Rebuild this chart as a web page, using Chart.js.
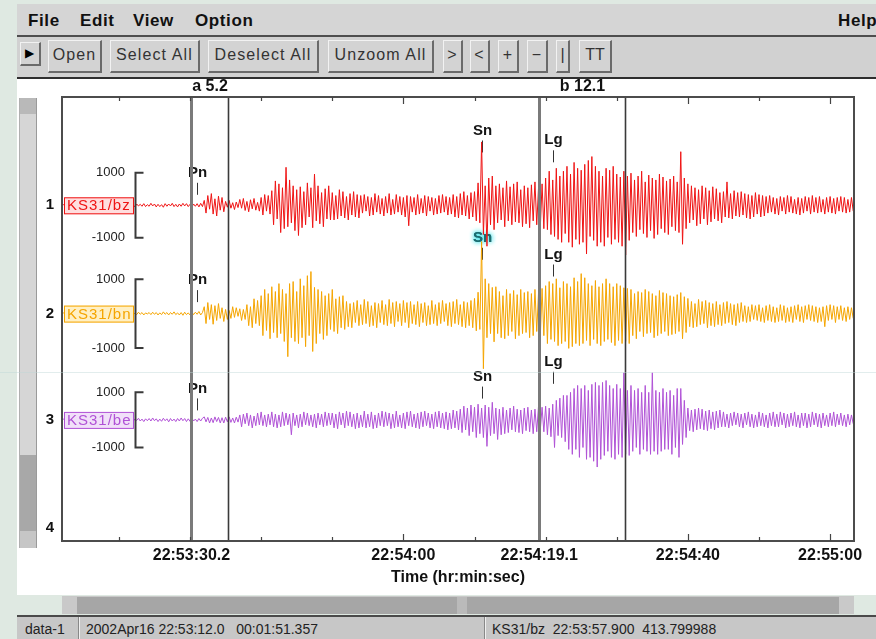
<!DOCTYPE html>
<html><head><meta charset="utf-8">
<script src="https://cdn.jsdelivr.net/npm/chart.js@4.4.1/dist/chart.umd.min.js"></script>
<style>
html,body{margin:0;padding:0;}
body{width:876px;height:639px;overflow:hidden;background:#dfe9e2;position:relative;font-family:"Liberation Sans",Arial,Helvetica,sans-serif;}
.abs{position:absolute;}
#menubar{left:17px;top:4px;width:859px;height:31px;background:#d5d5d5;border-bottom:2px solid #4e4e4e;overflow:hidden;}
.menu{position:absolute;top:8px;font-weight:bold;font-size:17px;line-height:17px;color:#111;letter-spacing:0.6px;white-space:nowrap;}
#toolbar{left:17px;top:37px;width:859px;height:40px;background:#d1d1d1;border-bottom:2px solid #2e2e2e;}
.btn{position:absolute;top:3px;height:33px;box-sizing:border-box;border-style:solid;border-width:1px 2px 2px 1px;border-color:#f2f2f2 #6a6a6a #6a6a6a #f2f2f2;background:#d3d3d3;font-size:16px;letter-spacing:1.1px;color:#333;line-height:28px;text-align:center;white-space:nowrap;}
#plotbg{left:17px;top:79px;width:859px;height:516px;background:#fff;}
#vscroll{left:19px;top:98px;width:16px;height:450px;background:#d6d6d6;border-left:1px solid #b0b0b0;border-right:1px solid #9a9a9a;}
#hscroll{left:62px;top:596px;width:792px;height:17px;background:#a6a6a6;border-top:1px solid #c8c8c8;}
#status{left:17px;top:615px;width:859px;height:24px;background:#c7c7c7;border-top:2px solid #4a4a4a;font-size:14px;color:#222;}
.st{position:absolute;top:4px;white-space:nowrap;line-height:16px;}
.sep{position:absolute;top:0;width:1px;height:24px;background:#888;border-right:1px solid #f0f0f0;}
#chart{position:absolute;left:17px;top:79px;}
</style>
</head><body>
<div id="menubar" class="abs">
  <span class="menu" style="left:11px">File</span>
  <span class="menu" style="left:63px">Edit</span>
  <span class="menu" style="left:116px">View</span>
  <span class="menu" style="left:178px">Option</span>
  <span class="menu" style="left:821px">Help</span>
</div>
<div id="toolbar" class="abs">
  <div class="btn" style="left:3px;top:5px;width:21px;height:24px;line-height:20px;font-size:12px;color:#000;">&#9654;</div>
  <div class="btn" style="left:31px;width:54px;">Open</div>
  <div class="btn" style="left:93px;width:90px;">Select All</div>
  <div class="btn" style="left:191px;width:111px;">Deselect All</div>
  <div class="btn" style="left:311px;width:106px;">Unzoom All</div>
  <div class="btn" style="left:426px;width:20px;">&gt;</div>
  <div class="btn" style="left:453px;width:20px;">&lt;</div>
  <div class="btn" style="left:481px;width:21px;">+</div>
  <div class="btn" style="left:510px;width:21px;">&minus;</div>
  <div class="btn" style="left:539px;width:14px;letter-spacing:0;">|</div>
  <div class="btn" style="left:562px;width:33px;letter-spacing:0;">TT</div>
</div>
<div id="plotbg" class="abs"></div>
<div id="vscroll" class="abs">
  <div class="abs" style="left:0;top:0;width:16px;height:16px;background:#b9b9b9;"></div>
  <div class="abs" style="left:0;top:357px;width:16px;height:76px;background:#a8a8a8;"></div>
  <div class="abs" style="left:0;top:433px;width:16px;height:17px;background:#c6c6c6;"></div>
</div>
<canvas id="chart" width="859" height="516"></canvas>
<div id="hscroll" class="abs">
  <div class="abs" style="left:0;top:0;width:15px;height:17px;background:#c9c9c9;"></div>
  <div class="abs" style="left:395px;top:0;width:10px;height:17px;background:#bababa;"></div>
  <div class="abs" style="left:777px;top:0;width:15px;height:17px;background:#c9c9c9;"></div>
</div>
<div id="status" class="abs">
  <span class="st" style="left:8px">data-1</span>
  <div class="sep" style="left:61px"></div>
  <span class="st" style="left:69px">2002Apr16 22:53:12.0&nbsp;&nbsp;&nbsp;00:01:51.357</span>
  <div class="sep" style="left:467px"></div>
  <span class="st" style="left:475px">KS31/bz&nbsp;&nbsp;22:53:57.900&nbsp;&nbsp;413.799988</span>
</div>
<div class="abs" style="left:0;top:372px;width:876px;height:1px;background:rgba(190,215,215,0.45);pointer-events:none;"></div>
<script>
// ---- data ----
const sampleInterval = 0.25;         // seconds between samples
const duration = 111.357;            // seconds shown (from 22:53:12.0)
const traceNames = ['KS31/bz', 'KS31/bn', 'KS31/be'];
const ampTickValues = [1000, -1000];
const tickValues = [18.2, 48, 67.1, 88, 108];
const tickLabels = ['22:53:30.2', '22:54:00', '22:54:19.1', '22:54:40', '22:55:00'];
const minorTickValues = [8, 18, 28, 38, 48, 58, 68, 78, 88, 98, 108];
const markerNames = ['a', 'b'];
const markerTimes = [18.2, 67.1];
const markerLengths = [5.2, 12.1];
const phaseNames = ['Pn', 'Sn', 'Lg'];
const phaseTimes = [19.05, 59.0, 69.0];

// counts, one value every 0.25 s
const bz = [
 0,20,-10,30,-20,10,-30,20,0,-20, 30,-10,20,-30,10,-20,40,-10,20,-30,
 30,-20,10,-40,20,-10,30,-30,40,-20, 10,-30,30,-10,50,-20,20,-40,30,-10,
 20,-50,40,-20,30,-30,50,-40,20,-30, 60,-20,40,-50,30,-40,20,-60,50,-30,
 40,-20,60,-40,30,-50,40,-30,60,-20, 50,-40,30,-60,40,-30,50,-50,60,-40,
 150,-240,300,-120,360,-270,200,-330,280,-150,240,-200,
 120,-60,150,-90,80,-130,100,-70,
 180,-90,210,-160,120,-200,170,-110,210,-150,90,-180,
 240,-300,330,-180,300,-270,
 450,-600,750,-420,660,-840,540,-720,1170,-660,780,-540,600,-780,480,-930,570,-690,
 420,-600,690,-360,540,-690,960,-480,600,-570,390,-660,510,-420,600,-450,
 390,-450,300,-420,480,-330,420,-390,270,-450,360,-300,420,-360,330,-390,
 300,-240,330,-180,270,-330,240,-300,360,-210,
 300,-270,210,-330,270,-240,360,-300,180,-270,
 330,-210,270,-300,240,-360,300,-630,270,-210,
 240,-300,330,-270,210,-240,300,-330,270,-180,
 240,-300,210,-270,300,-240,330,-210,270,-300,
 240,-270,
 330,-360,270,-390,360,-300,420,-330,300,-420,390,-360,
 420,-480,690,-540,1950,-900,600,-1260,840,-600,900,-750,
 600,-540,660,-450,540,-660,750,-480,570,-600,
 660,-510,720,-540,480,-660,600,-570,540,-690,
 630,-480,720,-600,540,-690,660,-720,
 840,-750,1050,-900,780,-960,1140,-1050,900,-1140,
 1050,-870,1200,-1140,960,-1290,1320,-1050,1140,-1200,
 1080,-1140,1260,-1500,1380,-960,1500,-1080,1200,-1260,
 1050,-1140,900,-1260,1140,-990,1080,-1200,1200,-1050,
 960,-1140,870,-1260,1050,-1530,900,-1080,
 990,-840,780,-960,900,-750,1050,-870,720,-990,
 930,-780,840,-1020,780,-900,960,-720,870,-840,
 750,-900,810,-660,900,-780,720,-840,
 1650,-1200,840,-720,
 660,-540,600,-450,540,-630,480,-570,600,-420,
 540,-600,450,-510,570,-420,510,-480,390,-540,
 420,-360,720,-390,360,-420,450,-330,390,-360,
 420,-300,360,-390,330,-420,300,-360,390,-270,
 330,-360,300,-330,
 270,-240,300,-210,240,-270,210,-300,270,-180,
 240,-270,300,-210,270,-240,180,-270,240,-300,
 210,-240,270,-180,240,-270,300,-210,240,-240,
 270,-210,180,-270,240,-210,270,-240,210,-270,
 240,-180,270,-210,240,-240,180,-210,240,-180
];
const bn = [
 0,20,-10,20,-20,10,-20,30,-10,20, -30,10,-20,20,-10,30,-20,10,-30,20,
 -10,30,-20,10,-30,20,-20,30,-10,20, -30,20,-10,30,-20,40,-10,20,-30,30,
 -20,10,-30,40,-20,30,-40,20,-10,30, -30,40,-20,30,-40,20,-30,50,-20,30,
 -40,30,-20,50,-30,20,-40,30,-50,40, -30,20,-40,50,-30,40,-20,60,-40,30,
 200,-290,320,-170,260,-310,230,-200,290,-140,170,-230,
 120,-170,90,-140,200,-110,170,-80,140,-200,120,-170,
 260,-350,200,-410,430,-290,380,-350,
 520,-640,700,-490,580,-730,780,-550,640,-700,870,-580,700,-810,580,-1250,
 870,-700,930,-810,640,-870,1010,-700,810,-960,1100,-640,1220,-1100,760,-870,
 700,-580,640,-750,520,-640,580,-460,700,-520,430,-580,490,-410,520,-460,
 350,-380,290,-410,320,-260,380,-350,260,-320,
 410,-290,350,-380,230,-350,320,-410,290,-260,
 380,-320,260,-350,410,-290,320,-380,350,-230,
 290,-350,380,-260,320,-410,350,-290,260,-320,
 350,-380,290,-260,320,-350,230,-320,380,-290,
 260,-350,320,-290,380,-230,290,-350,320,-380,
 350,-290,410,-320,260,-380,350,-410,320,-350,
 380,-410,
 440,-500,620,-460,2090,-1600,1010,-700,870,-580,760,-820,
 780,-580,640,-700,520,-730,700,-640,580,-520,
 670,-730,550,-640,700,-580,610,-550,640,-700,
 580,-640,700,-520,610,-670,730,-640,
 810,-870,930,-750,870,-810,1010,-930,750,-870,
 930,-810,870,-1010,780,-960,1040,-870,930,-930,
 1160,-870,1040,-780,870,-930,810,-750,960,-870,
 780,-930,870,-810,1010,-750,870,-840,780,-930,
 870,-780,810,-870,750,-810,730,-870,
 700,-640,580,-730,640,-520,610,-670,700,-580,
 640,-550,580,-700,520,-640,670,-580,610,-520,
 580,-640,520,-610,490,-580,550,-520,610,-730,
 490,-550,
 440,-380,350,-410,290,-380,410,-320,350,-290,
 380,-410,320,-350,290,-380,350,-320,260,-350,
 320,-290,350,-260,290,-320,260,-350,290,-260,
 320,-230,
 230,-260,200,-230,260,-170,230,-200,260,-230,
 170,-260,230,-200,260,-230,200,-260,170,-230,
 260,-200,230,-260,170,-230,200,-260,230,-170,
 260,-230,200,-260,230,-170,260,-200,230,-230,
 200,-260,170,-230,200,-380,230,-200,260,-170,
 230,-260,200,-170,230,-200,170,-230,200,-170,
 170,-140
];
const be = [
 0,30,-20,40,-10,20,-40,30,-20,10, -30,40,-20,30,-40,10,-30,50,-20,40,
 -30,20,-50,30,-10,40,-30,20,-40,50, -20,30,-40,20,-50,40,-30,70,-20,40,
 -50,30,-20,60,-40,30,-60,40,-30,50, -40,70,-30,40,-60,30,-50,60,-30,40,
 -70,50,-40,30,-60,50,-40,70,-30,50, -60,40,-50,70,-40,30,-60,50,-40,60,
 110,-70,90,-110,70,-100,110,-60,90,-110, 80,-110,100,-70,110,-90,70,-110,100,-80,
 180,-250,210,-140,250,-210,180,-290,140,-210,
 250,-180,290,-210,180,-250,210,-180,290,-250,
 210,-290,180,-250,290,-210,250,-180,210,-540,
 250,-210,180,-290,210,-250,290,-180,250,-210,
 180,-250,210,-290,250,-180,210,-250,290,-210,
 250,-180,
 250,-290,210,-320,290,-180,250,-290,320,-210,
 290,-250,210,-320,250,-290,180,-250,320,-290,
 210,-250,290,-320,180,-290,250,-210,320,-250,
 290,-210,250,-320,210,-290,320,-250,180,-290,
 250,-320,290,-210,320,-250,210,-290,250,-320,
 290,-250,320,-210,250,-290,210,-320,290,-250,
 320,-290,250,-320,290,-360,250,-320,360,-290,
 320,-360,
 390,-460,500,-360,430,-570,540,-430,460,-640,
 570,-500,430,-640,540,-960,460,-570,640,-500,
 430,-710,390,-540,460,-500,360,-460,
 430,-360,500,-430,390,-460,360,-500,430,-390,
 460,-430,360,-500,390,-430,500,-360,460,-430,
 500,-540,430,-610,570,-1000,710,-570,790,-640,890,-790,
 890,-1070,1000,-1250,1140,-1070,1250,-1360,1140,-1000,
 1250,-1430,1070,-1360,1290,-1500,1360,-1710,1250,-1430,
 1360,-1290,1430,-1140,1250,-1360,1140,-1430,1290,-1250,
 1140,-1360,1710,-1250,1070,-1290,
 1250,-1140,1070,-1000,1140,-1250,1000,-1070,1250,-1140,
 1000,-1250,1710,-1140,1070,-1250,1000,-1140,1140,-1070,
 1000,-1070,1070,-1250,890,-1000,1140,-1360,1140,-890,
 710,-640,
 430,-390,360,-430,390,-360,430,-320,390,-360,
 320,-390,360,-320,290,-360,320,-290,360,-250,
 290,-250,210,-290,250,-210,290,-180,250,-250,
 210,-290,250,-180,290,-250,210,-290,180,-250,
 290,-210,250,-250,180,-290,250,-210,290,-250,
 210,-250,290,-180,250,-290,210,-250,250,-210,
 290,-250,180,-290,250,-210,250,-290,210,-250,
 290,-180,250,-250,210,-290,250,-210,180,-250,
 250,-210,290,-250,210,-180,250,-210,180,-250,
 210,-180,180,-140
];
const traces = [bz, bn, be];

// ---- styling / layout (pixel units of the y scale) ----
const traceColors = ['#ef1414', '#f5a500', '#b052d6'];
const traceFills = ['#ffdede', '#fff0c4', '#f1e0f9'];
const traceBase = [110, 220, 328, 438];
const traceHalf = [33, 35, 28];
const phaseLift = [[33, 76, 66], [34, 77, 60], [32, 44, 59]];
const FONT = '"Liberation Sans", Arial, Helvetica, sans-serif';
Chart.defaults.font.family = FONT;

function line(ctx, x1, y1, x2, y2) { ctx.beginPath(); ctx.moveTo(x1, y1); ctx.lineTo(x2, y2); ctx.stroke(); }

const overlay = {
  id: 'overlay',
  beforeDatasetsDraw(chart) {
    const { ctx, scales: { x, y } } = chart;
    ctx.save();
    ctx.font = 'bold 15px ' + FONT;
    ctx.textAlign = 'center';
    ctx.textBaseline = 'middle';
    for (let k = 0; k < traces.length; k++) {
      for (let j = 0; j < phaseNames.length; j++) {
        const px = Math.round(x.getPixelForValue(phaseTimes[j])) + 0.5;
        const ly = y.getPixelForValue(traceBase[k] - phaseLift[k][j]);
        if (k === 1 && j === 1) {
          ctx.save();
          ctx.shadowColor = '#30e0e8'; ctx.shadowBlur = 5;
          ctx.fillStyle = '#1d6c70';
          ctx.fillText(phaseNames[j], px, ly); ctx.fillText(phaseNames[j], px, ly);
          ctx.restore();
        } else {
          ctx.fillStyle = '#141414';
          ctx.fillText(phaseNames[j], px, ly);
        }
        ctx.strokeStyle = '#333'; ctx.lineWidth = 1;
        line(ctx, px, ly + 10, px, ly + 22);
      }
    }
    ctx.restore();
  },
  afterDatasetsDraw(chart) {
    const { ctx, chartArea: a, scales: { x, y } } = chart;
    ctx.save();
    markerTimes.forEach((t, i) => {
      const x1 = Math.round(x.getPixelForValue(t)) + 0.5;
      const x2 = Math.round(x.getPixelForValue(t + markerLengths[i])) + 0.5;
      ctx.strokeStyle = '#7a7a7a'; ctx.lineWidth = 3; line(ctx, x1, a.top, x1, a.bottom);
      ctx.strokeStyle = '#3a3a3a'; ctx.lineWidth = 1.6; line(ctx, x2, a.top, x2, a.bottom);
      ctx.fillStyle = '#111'; ctx.font = 'bold 16px ' + FONT;
      ctx.textAlign = 'center'; ctx.textBaseline = 'middle';
      ctx.fillText(markerNames[i] + ' ' + markerLengths[i].toFixed(1), (x1 + x2) / 2, a.top - 10);
    });
    ctx.strokeStyle = '#4c4c4c'; ctx.lineWidth = 2;
    ctx.strokeRect(a.left, a.top, a.right - a.left, a.bottom - a.top);
    ctx.lineWidth = 1.2; ctx.strokeStyle = '#444';
    minorTickValues.forEach(t => {
      const px = Math.round(x.getPixelForValue(t)) + 0.5;
      const len = (tickValues.includes(t) && t !== 18) ? 7 : 4;
      line(ctx, px, a.top, px, a.top + len);
      line(ctx, px, a.bottom, px, a.bottom - len);
    });
    for (let k = 0; k < traces.length; k++) {
      const by = y.getPixelForValue(traceBase[k]);
      const bx0 = a.left + 2, bx1 = a.left + 72;
      ctx.fillStyle = traceFills[k];
      ctx.fillRect(bx0, by - 8, bx1 - bx0, 17);
      ctx.strokeStyle = traceColors[k]; ctx.lineWidth = 1;
      ctx.strokeRect(bx0 + 0.5, by - 7.5, bx1 - bx0 - 1, 16);
      ctx.fillStyle = traceColors[k];
      ctx.font = '15px ' + FONT; ctx.textAlign = 'left'; ctx.textBaseline = 'middle';
      if ('letterSpacing' in ctx) ctx.letterSpacing = '1px';
      ctx.fillText(traceNames[k], bx0 + 3, by + 1);
      if ('letterSpacing' in ctx) ctx.letterSpacing = '0px';
      const yTop = y.getPixelForValue(traceBase[k] - ampTickValues[0] * traceHalf[k] / 1000);
      const yBot = y.getPixelForValue(traceBase[k] - ampTickValues[1] * traceHalf[k] / 1000);
      const brx = a.left + 73.5;
      ctx.strokeStyle = '#3a3a3a'; ctx.lineWidth = 2;
      ctx.beginPath(); ctx.moveTo(brx + 8, yTop); ctx.lineTo(brx, yTop); ctx.lineTo(brx, yBot); ctx.lineTo(brx + 8, yBot); ctx.stroke();
      ctx.fillStyle = '#222'; ctx.font = '13px ' + FONT; ctx.textAlign = 'right';
      ctx.fillText(String(ampTickValues[0]), a.left + 63, yTop);
      ctx.fillText(String(ampTickValues[1]), a.left + 63, yBot);
    }
    ctx.fillStyle = '#111'; ctx.font = 'bold 15px ' + FONT; ctx.textAlign = 'center'; ctx.textBaseline = 'middle';
    traceBase.forEach((b, k) => ctx.fillText(String(k + 1), a.left - 12, y.getPixelForValue(b)));
    ctx.restore();
  }
};

const datasets = traces.map((vals, k) => ({
  label: traceNames[k],
  data: vals.map((c, i) => ({ x: i * sampleInterval, y: traceBase[k] - c * traceHalf[k] / 1000 })),
  borderColor: traceColors[k],
  borderWidth: 1,
  pointRadius: 0,
  tension: 0,
  fill: false
}));

new Chart(document.getElementById('chart'), {
  type: 'line',
  data: { datasets },
  plugins: [overlay],
  options: {
    responsive: false,
    animation: false,
    devicePixelRatio: 1,
    layout: { padding: { left: 45, right: 22, top: 18, bottom: 9 } },
    plugins: { legend: { display: false }, tooltip: { enabled: false } },
    scales: {
      x: {
        type: 'linear', min: 0, max: duration,
        grid: { display: false, drawTicks: false },
        border: { display: false },
        afterBuildTicks: (s) => { s.ticks = tickValues.map(v => ({ value: v })); },
        ticks: {
          autoSkip: false, maxRotation: 0, minRotation: 0, padding: 7, color: '#111',
          font: { size: 16, weight: 'bold', lineHeight: 1 },
          callback: (v, i) => tickLabels[i]
        },
        title: {
          display: true, text: 'Time (hr:min:sec)', color: '#111',
          font: { size: 16, weight: 'bold', lineHeight: 1 },
          padding: { top: -1, bottom: 0 }
        }
      },
      y: { display: false, min: 0, max: 451, reverse: true }
    }
  }
});
</script>
</body></html>
